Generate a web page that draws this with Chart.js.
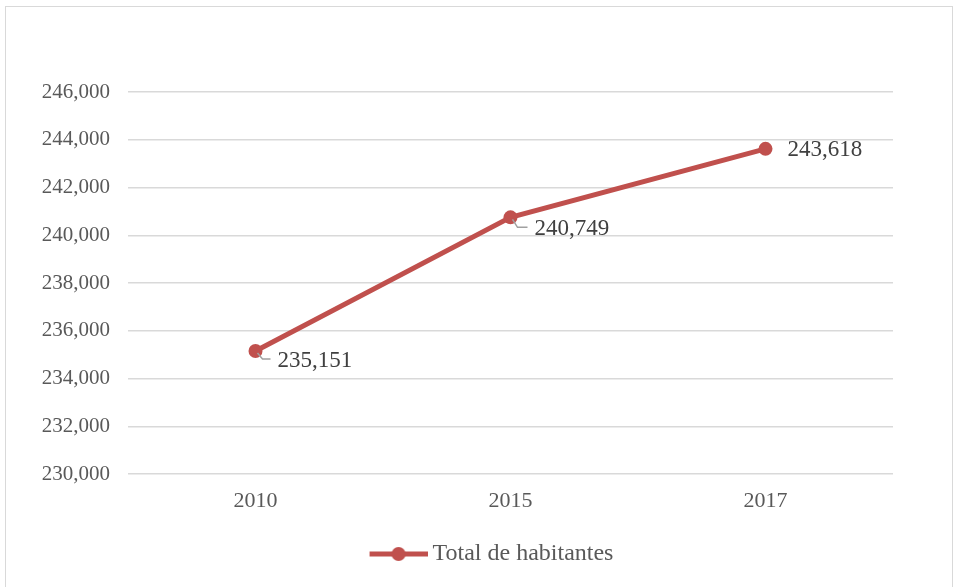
<!DOCTYPE html>
<html>
<head>
<meta charset="utf-8">
<script src="https://cdn.jsdelivr.net/npm/chart.js@4/dist/chart.umd.min.js"></script>
<style>
  html, body { margin: 0; padding: 0; background: #fff; }
  #wrap { position: relative; width: 956px; height: 587px; }
  #marco { position: absolute; left: 5px; top: 6px; width: 948px; height: 590px; border: 1px solid #d9d9d9; box-sizing: border-box; }
  canvas { position: absolute; left: 0; top: 0; }
</style>
</head>
<body>
<div id="wrap">
  <div id="marco"></div>
  <canvas id="grafik" width="956" height="587"></canvas>
</div>
<script>
// datos
const anios = ['2010', '2015', '2017']
const habitantes = [235151, 240749, 243618]
const nombreSerie = 'Total de habitantes'

const rojo = '#c0504d'
const fuente = '"Liberation Serif", "Times New Roman", serif'

const formatear = (n) => n.toLocaleString('en-US')

// icono de la leyenda: linea con punto (con espacio transparente a la izquierda para centrar como el original)
const margenIcono = 97
const icono = document.createElement('canvas')
icono.width = 58 + margenIcono
icono.height = 16
const ic = icono.getContext('2d')
ic.strokeStyle = rojo
ic.lineWidth = 5
ic.beginPath()
ic.moveTo(margenIcono, 8)
ic.lineTo(margenIcono + 58, 8)
ic.stroke()
ic.fillStyle = rojo
ic.beginPath()
ic.arc(margenIcono + 29, 8, 7, 0, Math.PI * 2)
ic.fill()

// etiquetas de datos con linea guia
const etiquetas = {
    id: 'etiquetas',
    afterDatasetsDraw(chart) {
        const c = chart.ctx
        const meta = chart.getDatasetMeta(0)
        const desplaz = [[22, 10, true], [24, 12, true], [22, 1, false]]
        c.save()
        c.font = '23px ' + fuente
        c.textBaseline = 'middle'
        meta.data.forEach((p, i) => {
            const [dx, dy, guia] = desplaz[i]
            if (guia) {
                c.strokeStyle = '#a0a0a0'
                c.lineWidth = 1.5
                c.beginPath()
                c.moveTo(p.x + 2, p.y + 2)
                c.lineTo(p.x + 7, p.y + dy - 2)
                c.lineTo(p.x + dx - 7, p.y + dy - 2)
                c.stroke()
            }
            c.fillStyle = '#404040'
            c.fillText(formatear(habitantes[i]), p.x + dx, p.y + dy)
        })
        c.restore()
    }
}

const ctx = document.getElementById('grafik').getContext('2d')
const grafik = new Chart(ctx, {
    type: 'line',
    data: {
        labels: anios,
        datasets: [{
            label: nombreSerie,
            data: habitantes,
            borderColor: rojo,
            backgroundColor: rojo,
            borderWidth: 5,
            pointRadius: 7,
            pointBackgroundColor: rojo,
            pointBorderWidth: 0,
            pointStyle: 'circle',
            tension: 0,
            fill: false
        }]
    },
    options: {
        responsive: false,
        animation: false,
        layout: { padding: { top: 92, right: 63, bottom: 11, left: 0 } },
        plugins: {
            tooltip: { enabled: false },
            legend: {
                position: 'bottom',
                labels: {
                    font: { family: fuente, size: 24 },
                    color: '#595959',
                    usePointStyle: true,
                    pointStyleWidth: 44 + margenIcono,
                    generateLabels: () => [{
                        text: nombreSerie,
                        pointStyle: icono,
                        fontColor: '#595959',
                        datasetIndex: 0
                    }],
                    padding: 10
                }
            }
        },
        scales: {
            x: {
                offset: true,
                grid: { display: false },
                border: { display: false },
                ticks: { font: { family: fuente, size: 22 }, color: '#595959', padding: 6 },
                afterFit: (s) => { s.height = 58 }
            },
            y: {
                min: 230000,
                max: 246000,
                ticks: {
                    stepSize: 2000,
                    font: { family: fuente, size: 21 },
                    color: '#595959',
                    padding: 18,
                    callback: (v) => formatear(v)
                },
                grid: { color: '#d9d9d9', lineWidth: 1.5, drawTicks: false },
                border: { display: false },
                afterFit: (s) => { s.width = 128 }
            }
        }
    },
    plugins: [etiquetas]
})
</script>
</body>
</html>
